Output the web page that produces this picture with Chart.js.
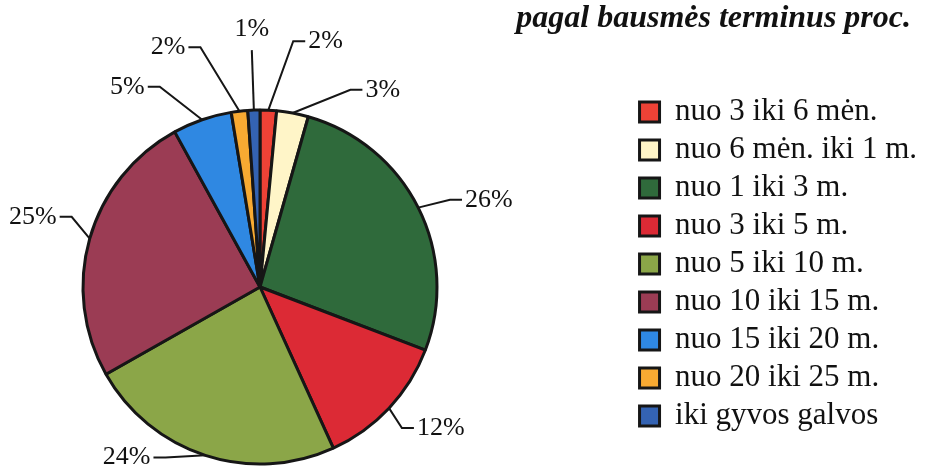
<!DOCTYPE html>
<html>
<head>
<meta charset="utf-8">
<script src="https://cdn.jsdelivr.net/npm/chart.js@4.4.1/dist/chart.umd.min.js"></script>
<style>
  html, body { margin: 0; padding: 0; background: #fff; }
  #wrap { width: 927px; height: 469px; position: relative; }
</style>
</head>
<body>
<div id="wrap"><canvas id="pieChart"></canvas></div>
<script>
// duomenys (procentai)
var categories = ['nuo 3 iki 6 mėn.', 'nuo 6 mėn. iki 1 m.', 'nuo 1 iki 3 m.', 'nuo 3 iki 5 m.',
    'nuo 5 iki 10 m.', 'nuo 10 iki 15 m.', 'nuo 15 iki 20 m.', 'nuo 20 iki 25 m.', 'iki gyvos galvos'];
var shares = [1.5, 2.9, 26.4, 12.4, 23.6, 25.2, 5.4, 1.5, 1.1];
var sliceColors = ['#ee4236', '#fff5c8', '#2f6a3b', '#dc2a35', '#8ba648', '#9b3c54', '#2f88e2', '#f8aa32', '#3463b3'];
var chartTitle = 'pagal bausmės terminus proc.';

// etikečių linijų išdėstymas (laipsniai / pikseliai nuo krašto)
var labelTurn = [5, 14, 2, 1.6, 11, 4.6, -7.5, -7.3, 0];
var labelLift = [71, 40, 32, 23, 18, 24, 47, 70, 60];

// skritulio vieta drobėje
var pieCenterX = 260, pieCenterY = 287, pieRadius = 177;

var serif = "'Liberation Serif', 'Times New Roman', serif";

// perkelia braižymo sritį į kairę nuo legendos
var pieFrame = {
    id: 'pieFrame',
    afterLayout: function (chart) {
        var a = chart.chartArea;
        var half = pieRadius + 3;
        a.left = pieCenterX - half;
        a.right = pieCenterX + half;
        a.top = pieCenterY - half;
        a.bottom = pieCenterY + half;
        a.width = a.height = half * 2;
    }
};

var leaderLabels = {
    id: 'leaderLabels',
    afterDatasetsDraw: function (chart) {
        var ctx = chart.ctx;
        var meta = chart.getDatasetMeta(0);
        ctx.save();
        ctx.strokeStyle = '#161616';
        ctx.lineWidth = 2;
        ctx.fillStyle = '#111';
        ctx.font = '26px ' + serif;
        ctx.textBaseline = 'middle';
        meta.data.forEach(function (arc, i) {
            var p = arc.getProps(['x', 'y', 'startAngle', 'endAngle', 'outerRadius'], true);
            var mid = (p.startAngle + p.endAngle) / 2;
            var a = mid + labelTurn[i] * Math.PI / 180;
            var r = p.outerRadius + labelLift[i];
            var x0 = p.x + Math.cos(mid) * p.outerRadius;
            var y0 = p.y + Math.sin(mid) * p.outerRadius;
            var ex = p.x + Math.cos(a) * r;
            var ey = p.y + Math.sin(a) * r;
            var text = Math.round(shares[i]) + '%';
            ctx.beginPath();
            ctx.moveTo(x0, y0);
            ctx.lineTo(ex, ey);
            if (Math.abs(Math.cos(a)) < 0.06) {
                ctx.stroke();
                ctx.textAlign = 'center';
                ctx.fillText(text, ex, ey - 21);
            } else {
                var dir = Math.cos(a) > 0 ? 1 : -1;
                ctx.lineTo(ex + dir * 12, ey);
                ctx.stroke();
                ctx.textAlign = dir > 0 ? 'left' : 'right';
                ctx.fillText(text, ex + dir * 15, ey);
            }
        });
        ctx.restore();
    }
};

var ctx = document.getElementById('pieChart').getContext('2d');

var myPie = new Chart(ctx, {
    type: 'pie',
    data: {
        labels: categories,
        datasets: [{
            data: shares,
            backgroundColor: sliceColors,
            borderColor: '#161616',
            borderWidth: 3,
            radius: pieRadius,
            hoverOffset: 0
        }]
    },
    options: {
        responsive: true,
        maintainAspectRatio: false,
        animation: false,
        layout: {
            padding: 0
        },
        plugins: {
            tooltip: { enabled: false },
            title: {
                display: true,
                text: chartTitle + '\u00a0\u00a0',
                align: 'end',
                color: '#111',
                font: { family: serif, size: 32, weight: 'bold', style: 'italic', lineHeight: 1 },
                padding: { top: 3, bottom: 0 }
            },
            legend: {
                position: 'right',
                align: 'start',
                title: {
                    display: true,
                    text: ' ',
                    font: { size: 10, lineHeight: 1 },
                    padding: { top: 79.5, bottom: 0 }
                },
                labels: {
                    color: '#111',
                    font: { family: serif, size: 31 },
                    boxWidth: 20,
                    boxHeight: 20,
                    padding: 7
                }
            }
        }
    },
    plugins: [pieFrame, leaderLabels]
});
</script>
</body>
</html>
